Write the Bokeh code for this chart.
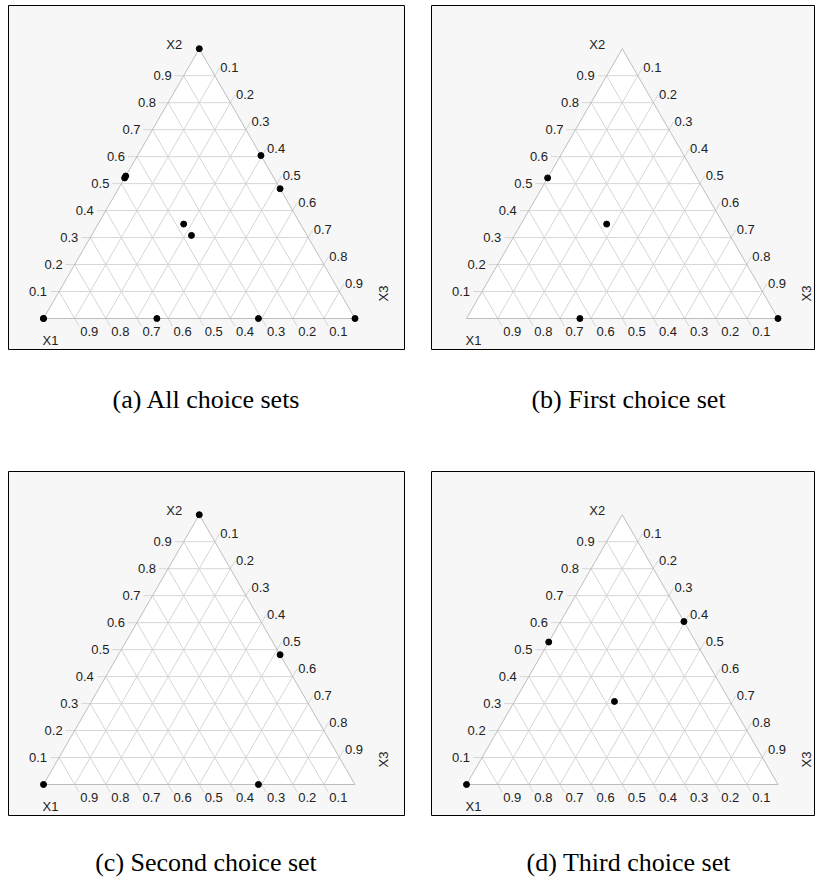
import numpy as np
from bokeh.plotting import figure
from bokeh.layouts import column, row
from bokeh.models import Div
from bokeh.core.properties import value
from bokeh.embed import file_html
from bokeh.resources import INLINE

# Mixture design points (x1, x2, x3) for each choice set
FIRST_X1 = [0.0, 0.636, 0.479, 0.375]
FIRST_X2 = [0.0, 0.0, 0.521, 0.350]
FIRST_X3 = [1.0, 0.364, 0.0, 0.275]

SECOND_X1 = [0.0, 1.0, 0.0, 0.310]
SECOND_X2 = [1.0, 0.0, 0.481, 0.0]
SECOND_X3 = [0.0, 0.0, 0.519, 0.690]

THIRD_X1 = [1.0, 0.472, 0.0, 0.371]
THIRD_X2 = [0.0, 0.528, 0.604, 0.308]
THIRD_X3 = [0.0, 0.0, 0.396, 0.321]

ALL_X1 = FIRST_X1 + SECOND_X1 + THIRD_X1
ALL_X2 = FIRST_X2 + SECOND_X2 + THIRD_X2
ALL_X3 = FIRST_X3 + SECOND_X3 + THIRD_X3

# Ternary grid values and their labels
TICKS = [0.1, 0.2, 0.3, 0.4, 0.5, 0.6, 0.7, 0.8, 0.9]
TICK_LABELS = ["0.1", "0.2", "0.3", "0.4", "0.5", "0.6", "0.7", "0.8", "0.9"]
VERTEX_NAMES = ["X1", "X2", "X3"]

CAPTIONS = ["(a) All choice sets", "(b) First choice set",
            "(c) Second choice set", "(d) Third choice set"]

H = np.sqrt(3) / 2
SCALE = 311.5          # pixels per unit side of the triangle
TICK_LEN = 9 / SCALE   # tick extension length in data units

FRAME_BG = "#f7f7f7"
GRID_COLOR = "#d6d6d6"
EDGE_COLOR = "#bdbdbd"
TEXT_COLOR = "#222222"
NUM_FONT = value("Liberation Sans")


def to_xy(x1, x2, x3):
    x1, x2, x3 = (np.asarray(v, dtype=float) for v in (x1, x2, x3))
    return x3 + x2 / 2, x2 * H


def make_panel(x1, x2, x3, width, height, mb_left, mb_right, mb_top, mb_bottom):
    fw = width - mb_left - mb_right
    fh = height - mb_top - mb_bottom
    x0 = -35 / SCALE
    y0 = -31 / SCALE
    p = figure(width=width, height=height, output_backend="svg",
               toolbar_location=None, x_axis_location=None, y_axis_location=None,
               x_range=(x0, x0 + fw / SCALE), y_range=(y0, y0 + fh / SCALE),
               min_border_left=mb_left, min_border_right=mb_right,
               min_border_top=mb_top, min_border_bottom=mb_bottom,
               background_fill_color=FRAME_BG, border_fill_color="white",
               outline_line_color="black", outline_line_width=1)
    p.xgrid.visible = False
    p.ygrid.visible = False

    t = np.array(TICKS)
    one = np.ones_like(t)
    zero = np.zeros_like(t)

    # triangle body
    vx, vy = to_xy([1, 0, 0], [0, 1, 0], [0, 0, 1])
    p.patch(list(vx), list(vy), fill_color="white", line_color=None)

    # constant x2 lines (left edge -> right edge)
    ax, ay = to_xy(one - t, t, zero)
    bx, by = to_xy(zero, t, one - t)
    # constant x3 lines (bottom -> right edge)
    cx, cy = to_xy(one - t, zero, t)
    dx, dy = to_xy(zero, one - t, t)
    # constant x1 lines (bottom -> left edge)
    ex, ey = to_xy(t, zero, one - t)
    gx, gy = to_xy(t, one - t, zero)

    xs, ys = [], []
    for sx, sy, tx, ty in ((ax - TICK_LEN, ay, bx, by),
                           (cx, cy, dx + TICK_LEN * 0.5, dy + TICK_LEN * H),
                           (ex + TICK_LEN * 0.5, ey - TICK_LEN * H, gx, gy)):
        for i in range(len(t)):
            xs.append([sx[i], tx[i]])
            ys.append([sy[i], ty[i]])
    p.multi_line(xs, ys, line_color=GRID_COLOR, line_width=1)

    # triangle outline
    p.line(list(vx) + [vx[0]], list(vy) + [vy[0]], line_color=EDGE_COLOR, line_width=1)

    # tick labels
    p.text(ax - TICK_LEN, ay, text=TICK_LABELS, text_align="right",
           text_baseline="alphabetic", x_offset=-3, y_offset=0,
           text_font=NUM_FONT, text_font_size="13px", text_color=TEXT_COLOR)
    p.text(dx + TICK_LEN * 0.5, dy + TICK_LEN * H, text=TICK_LABELS,
           text_align="left", text_baseline="alphabetic", x_offset=1, y_offset=0,
           text_font=NUM_FONT, text_font_size="13px", text_color=TEXT_COLOR)
    p.text(ex + TICK_LEN * 0.5, ey - TICK_LEN * H, text=TICK_LABELS,
           text_align="left", text_baseline="top", x_offset=1, y_offset=1,
           text_font=NUM_FONT, text_font_size="13px", text_color=TEXT_COLOR)

    # vertex names
    p.text([vx[0]], [vy[0]], text=[VERTEX_NAMES[0]], text_align="center",
           text_baseline="middle", x_offset=7, y_offset=22,
           text_font=NUM_FONT, text_font_size="13px", text_color=TEXT_COLOR)
    p.text([vx[1]], [vy[1]], text=[VERTEX_NAMES[1]], text_align="center",
           text_baseline="middle", x_offset=-25, y_offset=-4,
           text_font=NUM_FONT, text_font_size="13px", text_color=TEXT_COLOR)
    p.text([vx[2]], [vy[2]], text=[VERTEX_NAMES[2]], text_align="center",
           text_baseline="middle", x_offset=28, y_offset=-25, angle=np.pi / 2,
           text_font=NUM_FONT, text_font_size="13px", text_color=TEXT_COLOR)

    # design points
    px, py = to_xy(x1, x2, x3)
    p.scatter(px, py, size=6, fill_color="black", line_color="black")
    return p


def caption_div(text, width, height, pad_top, pad_left=0, pad_right=0):
    style = ("font-family:'Liberation Serif',serif;font-size:26px;line-height:30px;"
             "color:black;text-align:center;box-sizing:border-box;white-space:nowrap;"
             f"width:{width}px;padding-top:{pad_top}px;"
             f"padding-left:{pad_left}px;padding-right:{pad_right}px;")
    return Div(text=f'<div style="{style}">{text}</div>', width=width, height=height,
               margin=0)


pa = make_panel(ALL_X1, ALL_X2, ALL_X3, 422, 350, 8, 18, 5, 1)
pb = make_panel(FIRST_X1, FIRST_X2, FIRST_X3, 393, 350, 9, 0, 5, 1)
pc = make_panel(SECOND_X1, SECOND_X2, SECOND_X3, 422, 351, 8, 18, 6, 1)
pd = make_panel(THIRD_X1, THIRD_X2, THIRD_X3, 393, 351, 9, 0, 6, 1)

ca = caption_div(CAPTIONS[0], 422, 115, 35, pad_right=10)
cb = caption_div(CAPTIONS[1], 393, 115, 35, pad_left=20)
cc = caption_div(CAPTIONS[2], 422, 62, 32, pad_right=10)
cd = caption_div(CAPTIONS[3], 393, 62, 32, pad_left=20)

layout = column(row(pa, pb, spacing=0), row(ca, cb, spacing=0),
                row(pc, pd, spacing=0), row(cc, cd, spacing=0), spacing=0)

open("out.html", "w").write(file_html(layout, INLINE))
